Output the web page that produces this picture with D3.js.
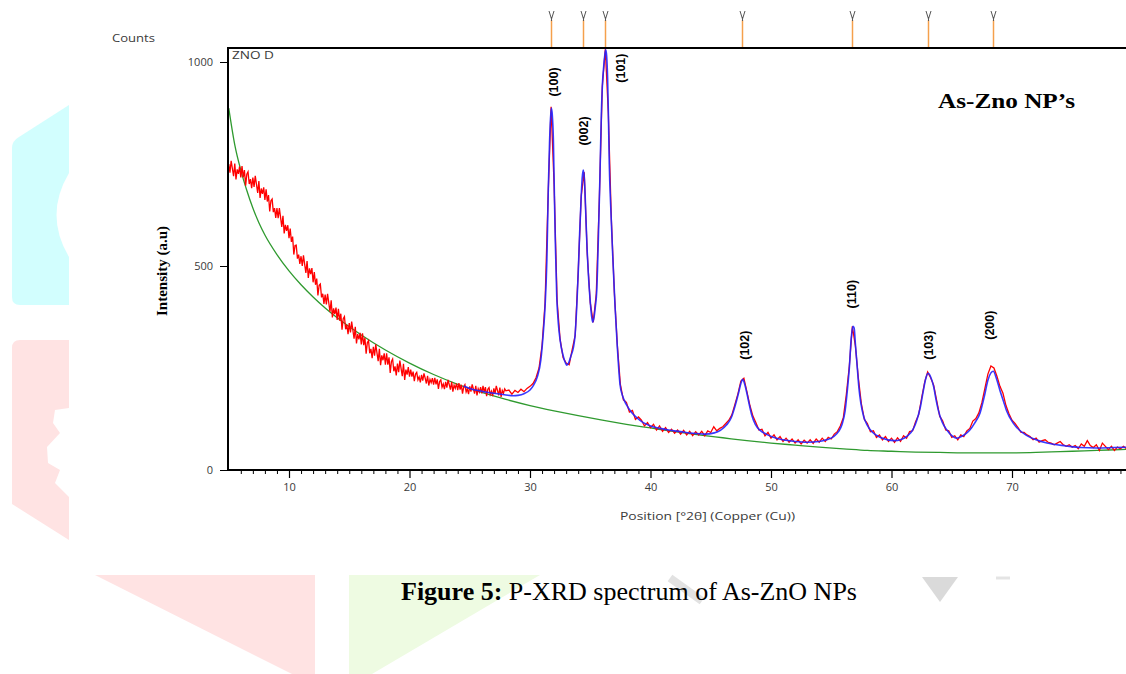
<!DOCTYPE html>
<html>
<head>
<meta charset="utf-8">
<script src="https://cdn.jsdelivr.net/npm/d3@7"></script>
<style>
  body { margin: 0; background: #fff; }
  svg { display: block; }
  .tick text { font-family: "Open Sans", "Noto Sans", sans-serif; font-size: 11px; fill: #3a3a3a; }
</style>
</head>
<body>
<div id="chart"></div>
<script>
// measured pattern, low angle part, every 0.1 deg from 5 deg
const redLowStart = 5, redLowStep = 0.1;
const redLowCounts = [
  750,729,758,739,720,751,712,737,726,744,
  717,745,717,735,697,725,731,701,713,691,
  717,694,721,700,679,708,667,690,677,693,
  662,688,658,674,634,660,664,632,642,618,
  642,617,642,619,596,623,580,601,586,600,
  568,592,559,572,528,550,551,518,528,505,
  524,500,526,504,483,512,471,494,480,495,
  460,485,454,469,428,453,456,423,432,407,
  430,406,432,410,388,416,374,396,382,398,
  368,395,366,383,344,371,376,345,356,333,
  360,337,364,343,322,351,310,333,320,336,
  308,335,306,324,285,312,317,286,297,274,
  302,280,308,287,267,297,257,281,269,286,
  258,286,258,276,238,266,272,242,254,232,
  261,240,268,249,230,260,221,246,234,252,
  229,246,229,241,218,235,239,221,228,215,
  233,219,237,225,212,231,207,222,214,225,
  209,226,210,222,199,217,221,203,211,198,
  216,202,221,209,197,216,192,208,200,212,
  196,213,197,209,187,204,209,191,199,186,
  205,192,210,199,187,206,183,199,191,203,
  188,206,190,203,181,198,202,185,193,181,
  200,187,206,195,183,202,179,195,188,199,
  194
];
// measured pattern, peak part, every 0.25 deg from 28.25 deg
const redHighStart = 28.25, redHighStep = 0.25;
const redHighCounts = [
  196,186,195,190,198,192,200,205,212,226,250,305,410,670,890,700,415,320,275,262,
  258,295,330,485,672,730,530,410,362,432,660,940,1032,875,615,435,305,210,172,166,
  142,146,124,130,122,108,116,104,112,98,108,95,104,92,100,90,98,88,97,86,
  95,84,94,86,95,84,96,92,106,96,102,106,114,122,135,160,186,218,225,192,
  158,132,116,98,100,84,92,78,86,74,82,70,78,68,76,66,74,64,73,66,
  74,65,76,68,78,70,80,76,88,94,108,128,185,255,352,305,225,162,124,114,
  94,96,80,86,74,82,70,78,68,79,70,84,78,94,96,118,135,176,215,240,
  226,208,170,132,120,98,96,80,84,74,86,82,96,102,120,126,140,165,200,235,
  255,250,230,205,188,158,138,122,114,104,92,92,86,82,74,78,68,72,74,68,
  66,62,66,70,62,58,62,56,60,52,64,58,72,60,55,62,48,66,58,50,
  58,48,56,52,58,52,58,54
];

// fitted profile
const blueTheta = [24.5,25,26,27,28,28.6,29,29.5,30,30.3,30.6,30.9,31.1,31.25,31.4,31.52,31.62,31.7,31.77,31.85,31.94,32.02,32.1,32.22,32.35,32.5,32.75,32.95,33.05,33.2,33.4,33.6,33.74,33.88,34.0,34.12,34.22,34.33,34.42,34.5,34.57,34.65,34.74,34.84,34.98,35.1,35.2,35.3,35.42,35.54,35.67,35.8,35.92,36.02,36.12,36.22,36.29,36.36,36.44,36.5,36.58,36.7,36.87,37.06,37.25,37.47,37.7,38.0,38.4,38.86,39.4,40,40.8,41.5,42.5,43.5,44.5,45.3,45.8,46.3,46.7,47.0,47.3,47.5,47.65,47.8,48.0,48.2,48.4,48.7,49.1,49.6,50.2,51,52,53,54,54.6,55.2,55.6,55.9,56.15,56.35,56.5,56.65,56.8,56.9,57.0,57.15,57.3,57.45,57.7,57.95,58.4,59.15,60.2,60.8,61.3,61.8,62.1,62.4,62.65,62.85,63.05,63.25,63.5,63.7,63.9,64.2,64.6,65.0,65.4,65.8,66.2,66.5,66.9,67.35,67.7,68.0,68.25,68.45,68.7,69.0,69.3,69.55,70.1,70.6,71.2,72,72.9,74.5,75.7,77,78.5,80];
const blueCounts = [206,200,193,188,184,182,183,187,196,208,228,270,335,400,515,690,800,860,887,870,809,680,560,425,360,318,280,262,257,262,280,300,330,400,482,580,650,715,735,718,678,610,540,482,420,380,362,372,400,440,564,715,870,950,990,1020,1030,1015,960,880,750,645,523,400,300,210,180,160,142,128,116,108,102,98,94,90,88,91,97,110,128,155,188,212,222,212,188,160,135,112,97,88,80,74,70,68,70,74,82,94,112,145,200,250,320,352,348,310,255,200,165,130,112,93,79,72,75,83,100,122,155,196,225,237,228,204,172,145,118,98,84,78,82,90,98,115,140,180,220,238,242,225,195,168,145,115,98,85,74,66,59,55,54,55,56];

// background curve
const bgTheta = [5,5.5,6,6.5,7,7.5,8,9,10,11,12,13,14,16,18,20,22,24,26,28,30,32,34,36,38,40,42,44,46,48,50,52,54,56,58,60,62,64,66,68,70,72,74,76,78,80];
const bgCounts = [887,797,735,685,642,606,576,528,488,454,424,397,373,331,294,262,234,210,190,173,158,145,133,122,112,103,94,86,79,72,66,61,56,52,48,46,44,43,42,42,42,43,45,47,49,51];

// reference pattern lines (top strip)
const refTheta = [31.77, 34.42, 36.25, 47.6, 56.7, 63.0, 68.4];

// peak annotations
const peakLabels = ['(100)', '(002)', '(101)', '(102)', '(110)', '(103)', '(200)'];
const peakLabelTheta = [31.91, 34.44, 37.47, 47.76, 56.72, 63.11, 68.17];
const peakLabelCounts = [951, 831, 985, 306, 431, 306, 355];

const xTicks = [10, 20, 30, 40, 50, 60, 70];
const yTicks = [0, 500, 1000];

const width = 1126, height = 674;
const plotLeft = 228, plotTop = 48, plotBottom = 470;

const svg = d3.select('#chart').append('svg')
  .attr('width', width)
  .attr('height', height);

// faint watermark behind the figure
const wm = svg.append('g');
wm.append('path').attr('fill', '#d2fefe')
  .attr('d', 'M69,105 L69,173 Q44,215 69,257 L69,305 L20,305 Q12,305 12,297 L12,148 Q12,141 19,137 Z');
wm.append('path').attr('fill', '#ffe3e3')
  .attr('d', 'M20,340 L69,340 L69,408 L55,410 L53,423 L60,433 L47,447 L48,463 L60,470 L55,483 L69,497 L69,540 L12,504 L12,348 Q12,340 20,340 Z');
wm.append('path').attr('fill', '#ffe3e3').attr('d', 'M95,575 L315,575 L315,674 L292,674 Z');
wm.append('path').attr('fill', '#eefbe2').attr('d', 'M349,575 L540,575 L372,674 L349,674 Z');
wm.append('path').attr('fill', 'none').attr('stroke', '#e2e2e2').attr('stroke-width', 8)
  .attr('d', 'M670,578 L702,601');
wm.append('path').attr('fill', '#dadada').attr('d', 'M922,577 L958,577 L940,602 Z');
wm.append('path').attr('fill', 'none').attr('stroke', '#e4e4e4').attr('stroke-width', 3)
  .attr('d', 'M996,578 L1010,578');

const x = d3.scaleLinear().domain([5, 80]).range([228.75, 228.75 + 75 * 12.05]);
const y = d3.scaleLinear().domain([0, 1000]).range([plotBottom, 62]);

svg.append('defs').append('clipPath').attr('id', 'plot')
  .append('rect').attr('x', plotLeft).attr('y', plotTop)
  .attr('width', width - plotLeft).attr('height', plotBottom - plotTop);

const plot = svg.append('g').attr('clip-path', 'url(#plot)');

const red = redLowCounts.map((c, i) => [redLowStart + i * redLowStep, c])
  .concat(redHighCounts.map((c, i) => [redHighStart + i * redHighStep, c]));
const blue = blueTheta.map((t, i) => [t, blueCounts[i]]);
const bg = bgTheta.map((t, i) => [t, bgCounts[i]]);

const lineLin = d3.line().x(d => x(d[0])).y(d => y(d[1]));
const lineSmooth = d3.line().x(d => x(d[0])).y(d => y(d[1])).curve(d3.curveMonotoneX);

plot.append('path').datum(bg)
  .attr('fill', 'none').attr('stroke', '#2f9a2f').attr('stroke-width', 1.3)
  .attr('d', lineSmooth);

plot.append('path').datum(red)
  .attr('fill', 'none').attr('stroke', '#ff0000').attr('stroke-width', 1.3)
  .attr('d', lineLin);

plot.append('path').datum(blue)
  .attr('fill', 'none').attr('stroke', '#2323ff').attr('stroke-opacity', 0.9).attr('stroke-width', 1.6)
  .attr('d', lineSmooth);

// axes
const xAxis = svg.append('g')
  .attr('transform', `translate(0,${plotBottom})`)
  .call(d3.axisBottom(x).tickValues(xTicks).tickSize(8).tickPadding(5).tickFormat(d3.format('d')));
xAxis.select('.domain').remove();
xAxis.selectAll('line').attr('stroke', '#000').attr('stroke-width', 1.2);

const minor = svg.append('g')
  .attr('transform', `translate(0,${plotBottom})`)
  .call(d3.axisBottom(x).tickValues(d3.range(6, 80).filter(d => d % 10 !== 0)).tickSize(4).tickFormat(''));
minor.select('.domain').remove();
minor.selectAll('line').attr('stroke', '#000');

const yAxis = svg.append('g')
  .attr('transform', `translate(${plotLeft},0)`)
  .call(d3.axisLeft(y).tickValues(yTicks).tickSize(8).tickPadding(7).tickFormat(d3.format('d')));
yAxis.select('.domain').remove();
yAxis.selectAll('line').attr('stroke', '#000');

// frame
svg.append('path')
  .attr('fill', 'none').attr('stroke', '#000').attr('stroke-width', 2)
  .attr('d', `M${width},${plotTop} L${plotLeft},${plotTop} L${plotLeft},${plotBottom} L${width},${plotBottom}`);

// reference markers above the frame
const refs = svg.append('g').selectAll('g').data(refTheta).join('g')
  .attr('transform', d => `translate(${Math.round(x(d)) + 0.5},0)`);
refs.append('line').attr('y1', 20).attr('y2', plotTop - 1)
  .attr('stroke', '#f5a04c').attr('stroke-width', 1.5);
refs.append('path').attr('fill', 'none').attr('stroke', '#555').attr('stroke-width', 1)
  .attr('d', 'M-2.5,11 L0,19 L2.5,11 M0,17 L0,21');

// texts (the figure is slightly stretched sideways, so widths are fitted)
const sans = '"Open Sans", "Noto Sans", sans-serif';
const serif = '"Liberation Serif", "Times New Roman", serif';

svg.append('text').attr('x', 112).attr('y', 42)
  .attr('font-family', sans).attr('font-size', 11).attr('fill', '#3a3a3a')
  .attr('textLength', 43).attr('lengthAdjust', 'spacingAndGlyphs').text('Counts');

svg.append('text').attr('x', 232).attr('y', 59)
  .attr('font-family', sans).attr('font-size', 11).attr('fill', '#3a3a3a')
  .attr('textLength', 42).attr('lengthAdjust', 'spacingAndGlyphs').text('ZNO D');

svg.append('text').attr('x', 620).attr('y', 520)
  .attr('font-family', sans).attr('font-size', 11).attr('fill', '#3a3a3a')
  .attr('textLength', 175).attr('lengthAdjust', 'spacingAndGlyphs')
  .text('Position [°2θ] (Copper (Cu))');

svg.append('text')
  .attr('transform', 'translate(167,271) rotate(-90)')
  .attr('text-anchor', 'middle')
  .attr('font-family', serif)
  .attr('font-weight', 'bold').attr('font-size', 15).attr('fill', '#000')
  .text('Intensity (a.u)');

svg.append('text').attr('x', 938).attr('y', 108)
  .attr('font-family', serif)
  .attr('font-weight', 'bold').attr('font-size', 22).attr('fill', '#000')
  .attr('textLength', 137).attr('lengthAdjust', 'spacingAndGlyphs')
  .text('As-Zno NP’s');

svg.append('g').selectAll('text').data(peakLabels).join('text')
  .attr('transform', (d, i) => `translate(${x(peakLabelTheta[i]) + 4.5},${y(peakLabelCounts[i])}) rotate(-90)`)
  .attr('text-anchor', 'middle')
  .attr('font-family', '"Liberation Sans", Arial, sans-serif')
  .attr('font-weight', 'bold').attr('font-size', 12.5).attr('fill', '#000')
  .text(d => d);

const cap = svg.append('text').attr('x', 629).attr('y', 600).attr('text-anchor', 'middle')
  .attr('font-family', serif)
  .attr('font-size', 26).attr('fill', '#000');
cap.append('tspan').attr('font-weight', 'bold').text('Figure 5:');
cap.append('tspan').text(' P-XRD spectrum of As-ZnO NPs');
</script>
</body>
</html>
